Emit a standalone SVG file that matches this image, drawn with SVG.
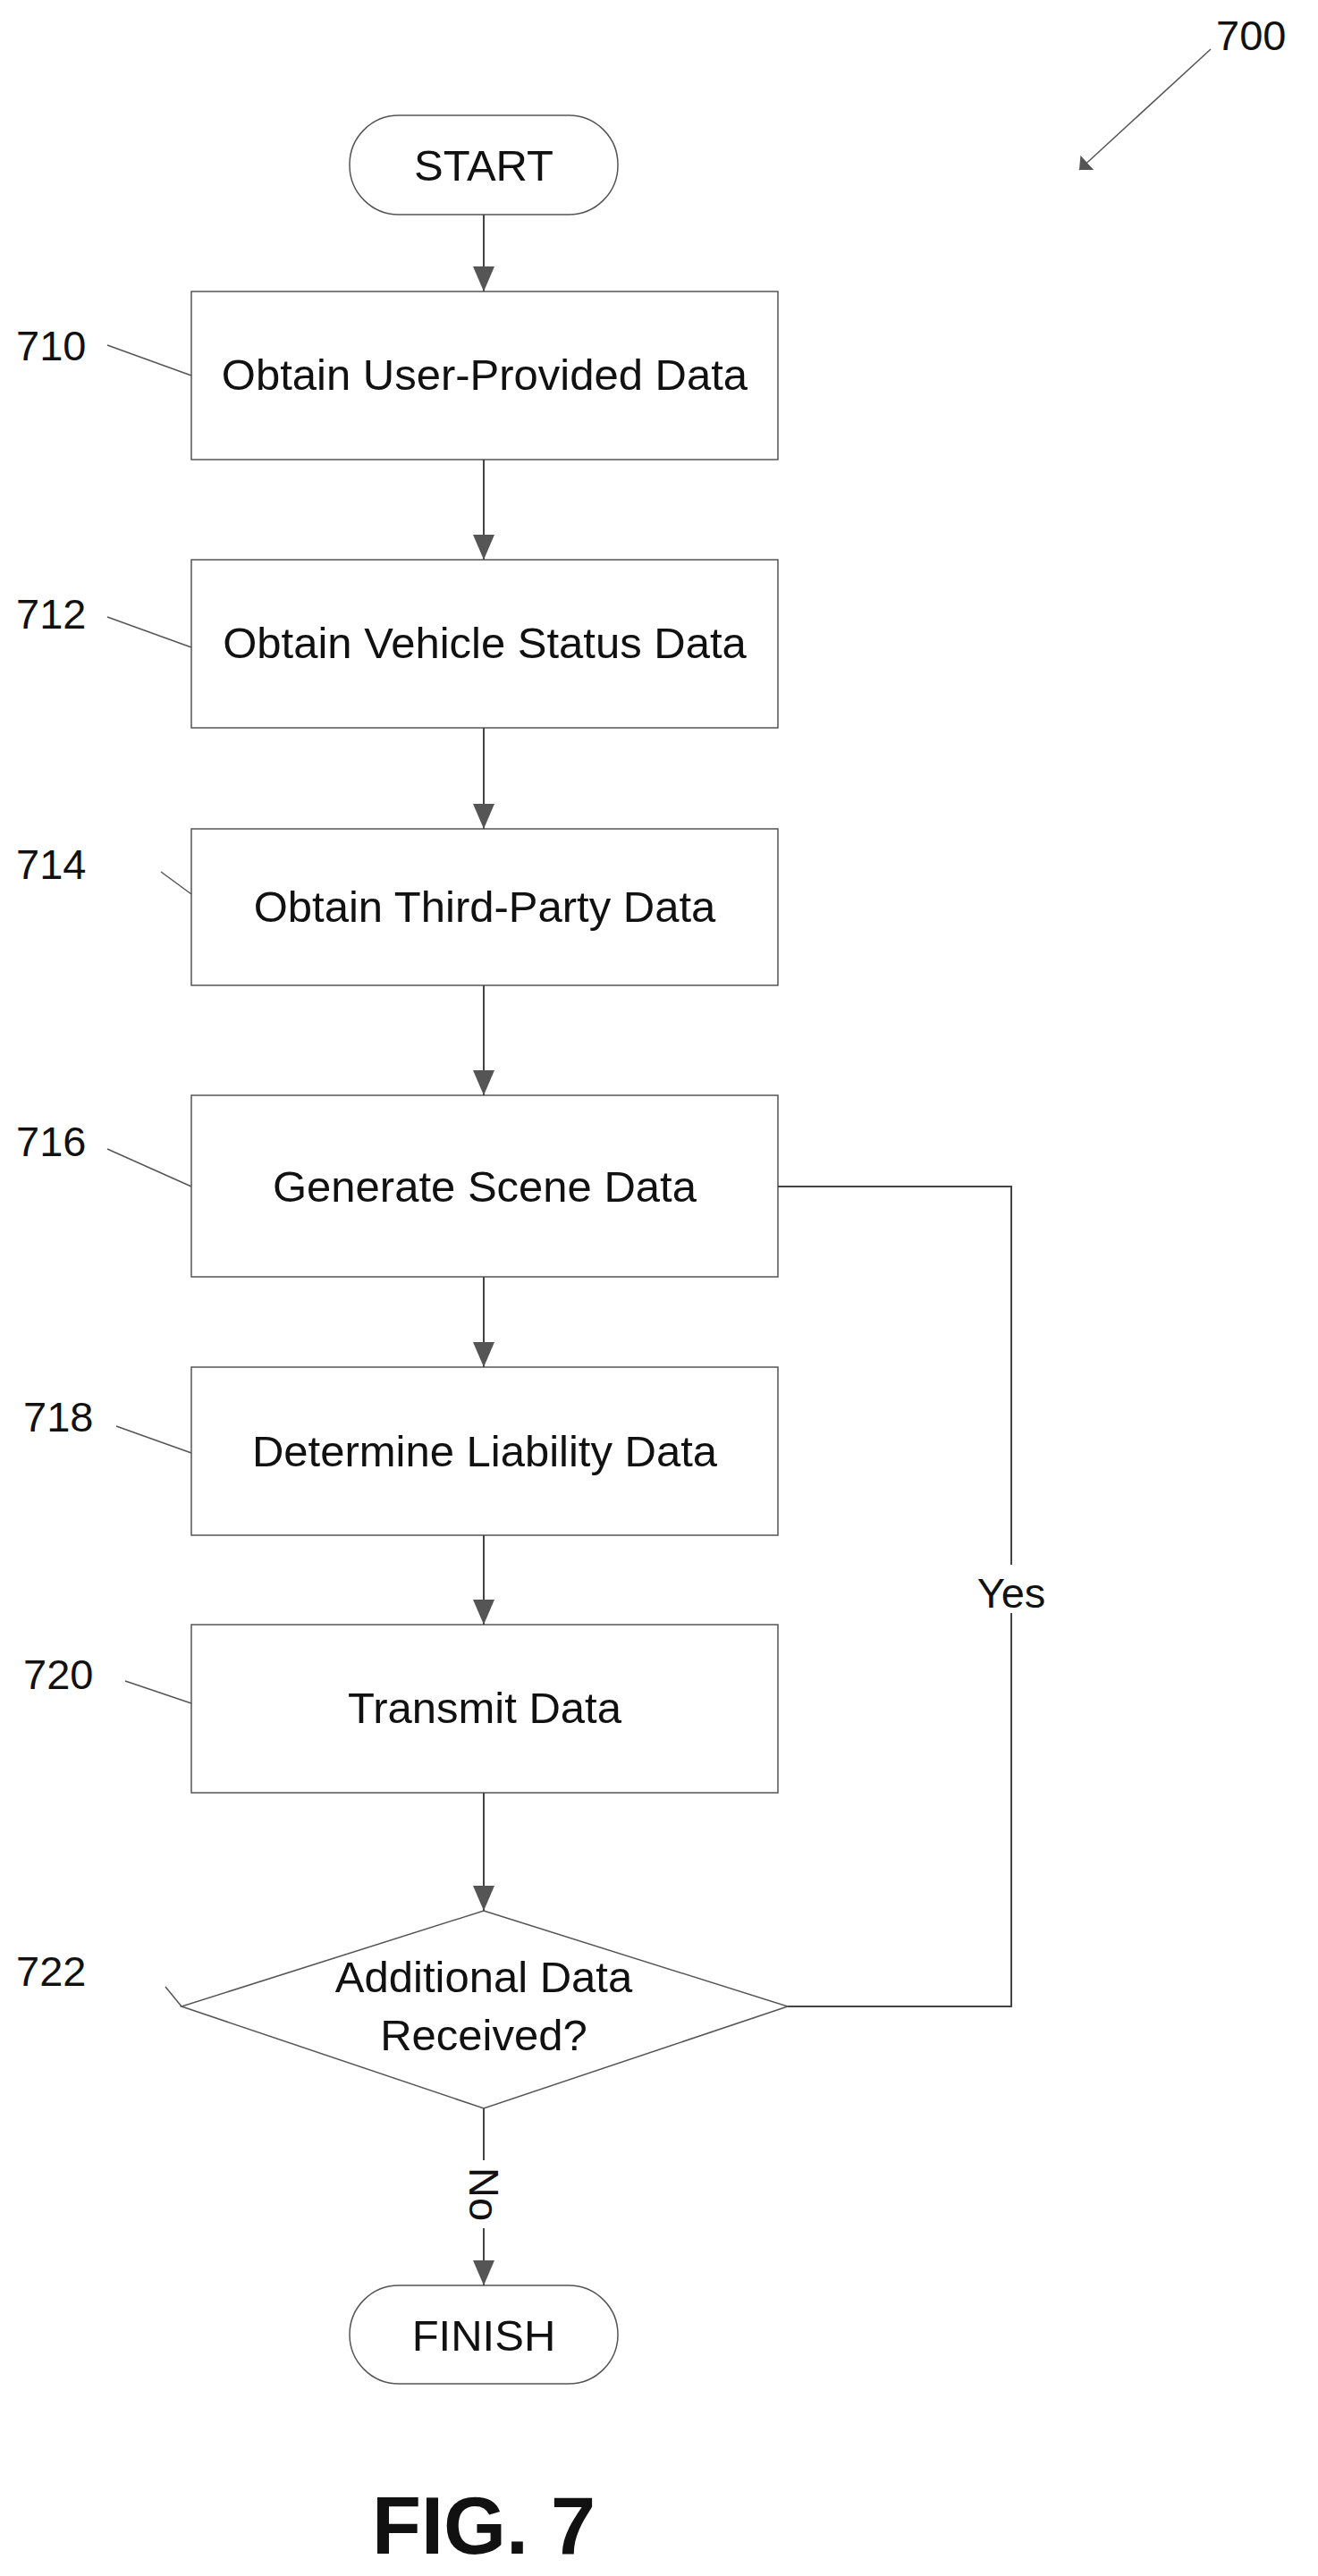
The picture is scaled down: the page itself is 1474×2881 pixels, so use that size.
<svg xmlns="http://www.w3.org/2000/svg" width="1474" height="2881" viewBox="0 0 1474 2881">
<style>
.n{fill:#fff;stroke:#555;stroke-width:1.5}
.t{font-family:"Liberation Sans",Arial,sans-serif;font-size:49px;fill:#111;text-anchor:middle}
.l{font-family:"Liberation Sans",Arial,sans-serif;font-size:47px;fill:#111}
.c{fill:none;stroke:#444;stroke-width:2}
.ld{fill:none;stroke:#555;stroke-width:1.5}
</style>
<defs>
<marker id="a" markerWidth="12" markerHeight="22" refX="12" refY="11" orient="auto" markerUnits="userSpaceOnUse" viewBox="0 0 12 22"><path d="M0,0 L12,11 L0,22 z" fill="#555"/></marker>
<marker id="b" markerWidth="28" markerHeight="24" refX="28" refY="12" orient="auto" markerUnits="userSpaceOnUse" viewBox="0 0 28 24"><path d="M0,0 L28,12 L0,24 z" fill="#555"/></marker>
</defs>
<g id="start"><rect class="n" x="391" y="129" width="300" height="111" rx="55"/><text class="t" x="541" y="202">START</text></g>
<g id="n710"><rect class="n" x="214" y="326" width="656" height="188"/><text class="t" x="542" y="436">Obtain User-Provided Data</text><text class="l" x="18" y="403">710</text><path class="ld" d="M120,386 L214,420"/></g>
<g id="n712"><rect class="n" x="214" y="626" width="656" height="188"/><text class="t" x="542" y="736">Obtain Vehicle Status Data</text><text class="l" x="18" y="703">712</text><path class="ld" d="M120,690 L214,724"/></g>
<g id="n714"><rect class="n" x="214" y="927" width="656" height="175"/><text class="t" x="542" y="1031">Obtain Third-Party Data</text><text class="l" x="18" y="983">714</text><path class="ld" d="M180,975 L214,1000"/></g>
<g id="n716"><rect class="n" x="214" y="1225" width="656" height="203"/><text class="t" x="542" y="1344">Generate Scene Data</text><text class="l" x="18" y="1293">716</text><path class="ld" d="M120,1285 L214,1327"/></g>
<g id="n718"><rect class="n" x="214" y="1529" width="656" height="188"/><text class="t" x="542" y="1640">Determine Liability Data</text><text class="l" x="26" y="1601">718</text><path class="ld" d="M130,1595 L214,1625"/></g>
<g id="n720"><rect class="n" x="214" y="1817" width="656" height="188"/><text class="t" x="542" y="1927">Transmit Data</text><text class="l" x="26" y="1889">720</text><path class="ld" d="M140,1880 L214,1905"/></g>
<g id="n722"><path class="n" d="M541,2137 L881,2244 L541,2358 L203,2244 z"/><text class="t" x="541" y="2228">Additional Data</text><text class="t" x="541" y="2293">Received?</text><text class="l" x="18" y="2221">722</text><path class="ld" d="M185,2222 L203,2244"/></g>
<g id="finish"><rect class="n" x="391" y="2556" width="300" height="110" rx="55"/><text class="t" x="541" y="2629">FINISH</text></g>
<g id="connectors">
<path class="c" d="M541,240 V326" marker-end="url(#b)"/>
<path class="c" d="M541,514 V626" marker-end="url(#b)"/>
<path class="c" d="M541,814 V927" marker-end="url(#b)"/>
<path class="c" d="M541,1102 V1225" marker-end="url(#b)"/>
<path class="c" d="M541,1428 V1529" marker-end="url(#b)"/>
<path class="c" d="M541,1717 V1817" marker-end="url(#b)"/>
<path class="c" d="M541,2005 V2137" marker-end="url(#b)"/>
<path class="c" d="M541,2358 V2556" marker-end="url(#b)"/>
<path class="c" d="M881,2244 H1131 V1327 H870"/>
<rect x="1080" y="1750" width="102" height="54" fill="#fff"/>
<text class="l" x="1131" y="1798" text-anchor="middle">Yes</text>
<rect x="520" y="2416" width="44" height="76" fill="#fff"/>
<text class="l" transform="translate(525,2454) rotate(90)" text-anchor="middle">No</text>
<path class="ld" d="M1354,55 L1207,190" marker-end="url(#a)"/>
<text class="l" x="1360" y="56">700</text>
</g>
<text x="541" y="2856" font-family="'Liberation Sans',Arial,sans-serif" font-size="90" font-weight="bold" text-anchor="middle" fill="#111">FIG. 7</text>
</svg>
